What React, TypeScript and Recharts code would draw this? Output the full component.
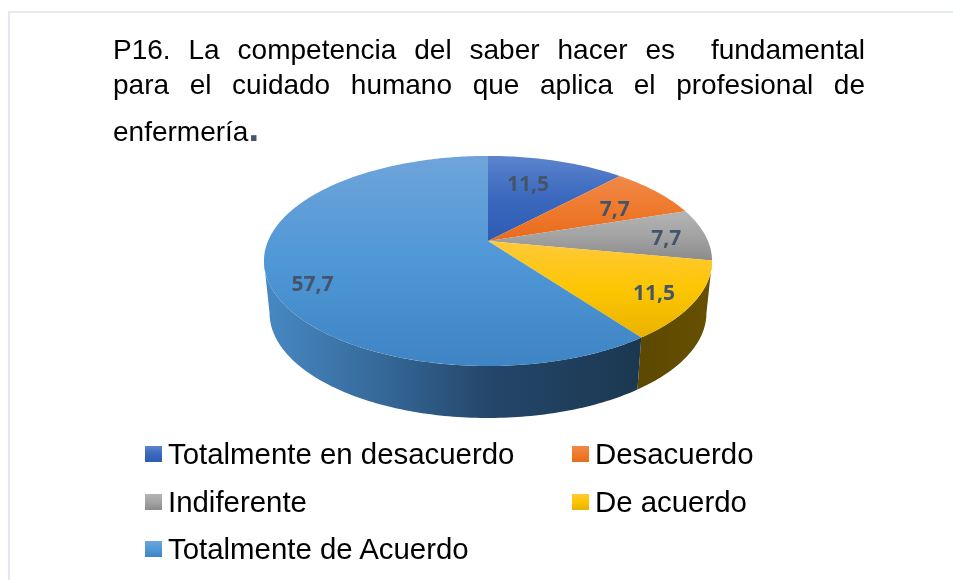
import { PieChart, Pie, Legend } from "recharts";

const categories = [
  "Totalmente en desacuerdo",
  "Desacuerdo",
  "Indiferente",
  "De acuerdo",
  "Totalmente de Acuerdo",
];
const values = [11.5, 7.7, 7.7, 11.5, 57.7];
const topStops = [
  ["#5d84cd", "#3a68bd", "#2f5cb3"],
  ["#f0894a", "#ef7a2d", "#e96b1b"],
  ["#b4b4b4", "#a3a3a3", "#8b8b8b"],
  ["#ffc93a", "#fdc602", "#e9b200"],
  ["#6fa4da", "#4f97d6", "#3f84c4"],
];

const data = categories.map((name, i) => ({ name, value: values[i], fill: `url(#top${i})` }));

// the pie lies tilted, so the far rim looks closer to the apex than the near rim
const TILT = 0.19;
const X_SCALE = 0.982;
const Y_SCALE = 0.452;
const WALL_DEPTH = 52;
const WALL_SHRINK = 0.975;
const WALL_FROM = 101;
const WALL_TO = 259;

function project(cx: number, cy: number, R: number, deg: number, r = 1) {
  const a = (deg * Math.PI) / 180;
  const X = Math.sin(a) * r;
  const Y = -Math.cos(a) * r;
  const w = 1 - TILT * Y;
  return { x: cx + (R * X_SCALE * X) / w, y: cy + (R * Y_SCALE * Y) / w };
}

function rim(cx: number, cy: number, R: number, from: number, to: number) {
  const pts = [];
  const n = Math.max(2, Math.ceil(Math.abs(to - from)));
  for (let i = 0; i <= n; i++) {
    pts.push(project(cx, cy, R, from + ((to - from) * i) / n));
  }
  return pts;
}

const toPath = (pts: { x: number; y: number }[]) =>
  pts.map((p, i) => `${i ? "L" : "M"}${p.x.toFixed(2)} ${p.y.toFixed(2)}`).join(" ") + " Z";

function TopSlice(props: any) {
  const { cx, cy, outerRadius, startAngle, endAngle, fill } = props;
  const pts = rim(cx, cy, outerRadius, 90 - startAngle, 90 - endAngle);
  return <path d={toPath([{ x: cx, y: cy }, ...pts])} fill={fill} stroke="none" />;
}

function WallSlice(props: any) {
  const { cx, cy, outerRadius, startAngle, endAngle, index } = props;
  const from = Math.max(90 - startAngle, WALL_FROM);
  const to = Math.min(90 - endAngle, WALL_TO);
  if (to <= from) return null;
  const top = rim(cx, cy, outerRadius, from, to);
  const bottom = top
    .map((p) => ({ x: cx + (p.x - cx) * WALL_SHRINK, y: p.y + WALL_DEPTH }))
    .reverse();
  return <path d={toPath([...top, ...bottom])} fill={`url(#wall${index})`} stroke="none" />;
}

// small corrections so the labels sit where the original put them
const labelNudge = [
  [-14, 5],
  [-4, 5],
  [13, 1],
  [13, 6],
  [-9, 17],
];

function SliceLabel(props: any) {
  const { cx, cy, outerRadius, midAngle, value, index } = props;
  const p = project(cx, cy, outerRadius, 90 - midAngle, 0.76);
  return (
    <text
      x={p.x + labelNudge[index][0]}
      y={p.y + labelNudge[index][1]}
      textAnchor="middle"
      dominantBaseline="central"
      fontFamily="'Open Sans', sans-serif"
      fontWeight={700}
      fontSize={21}
      fill="#44546a"
    >
      {String(value).replace(".", ",")}
    </text>
  );
}

function LegendBlock() {
  return (
    <div
      style={{
        display: "grid",
        gridTemplateColumns: "427px 300px",
        gridAutoRows: "47.5px",
        fontFamily: "'Liberation Sans', Arial, sans-serif",
        fontSize: 29.4,
        color: "#000",
      }}
    >
      {categories.map((name, i) => (
        <div key={name} style={{ display: "flex", alignItems: "center", height: 32 }}>
          <svg width={17} height={16} style={{ marginRight: 6, flex: "none" }}>
            <rect width={17} height={16} fill={`url(#top${i})`} />
          </svg>
          <span style={{ whiteSpace: "nowrap" }}>{name}</span>
        </div>
      ))}
    </div>
  );
}

const titleLine = {
  position: "absolute" as const,
  left: 105,
  width: 752,
  fontFamily: "'Liberation Sans', Arial, sans-serif",
  fontSize: 28,
  lineHeight: "34px",
  color: "#000",
  whiteSpace: "pre-wrap" as const,
  textAlign: "justify" as const,
  textAlignLast: "justify" as const,
};

export default function App() {
  return (
    <div style={{ position: "relative", width: 937, height: 564, background: "#fff" }}>
      <div
        style={{
          position: "fixed",
          left: 8,
          top: 11,
          width: 1000,
          height: 1000,
          borderLeft: "2px solid #e3e8ef",
          borderTop: "2px solid #e3e8ef",
        }}
      />
      <div style={{ ...titleLine, top: 25 }}>P16. La competencia del saber hacer es  fundamental</div>
      <div style={{ ...titleLine, top: 60 }}>para el cuidado humano que aplica el profesional de</div>
      <div style={{ ...titleLine, top: 107, textAlign: "left", textAlignLast: "left" }}>
        enfermería<span style={{ color: "#44546a", fontWeight: 700, fontSize: 38, lineHeight: 0 }}>.</span>
      </div>
      <div style={{ position: "absolute", left: 0, top: 0 }}>
        <PieChart width={937} height={564} margin={{ top: 0, right: 0, bottom: 0, left: 0 }}>
          <defs>
            {topStops.map((stops, i) => (
              <linearGradient key={i} id={`top${i}`} x1="0" y1="0" x2="0" y2="1">
                <stop offset="0%" stopColor={stops[0]} />
                <stop offset="50%" stopColor={stops[1]} />
                <stop offset="100%" stopColor={stops[2]} />
              </linearGradient>
            ))}
            <linearGradient id="wall3" x1="0" y1="0" x2="1" y2="0">
              <stop offset="0%" stopColor="#5c4800" />
              <stop offset="100%" stopColor="#665000" />
            </linearGradient>
            <linearGradient id="wall4" x1="0" y1="0" x2="1" y2="0">
              <stop offset="0%" stopColor="#4789c4" />
              <stop offset="30%" stopColor="#366a9a" />
              <stop offset="60%" stopColor="#24466a" />
              <stop offset="100%" stopColor="#1b3850" />
            </linearGradient>
          </defs>
          <Pie
            data={data}
            dataKey="value"
            nameKey="name"
            cx={480}
            cy={233}
            outerRadius={224}
            startAngle={90}
            endAngle={-270}
            paddingAngle={0}
            shape={WallSlice}
            legendType="none"
            label={false}
            labelLine={false}
            isAnimationActive={false}
          />
          <Pie
            data={data}
            dataKey="value"
            nameKey="name"
            cx={480}
            cy={233}
            outerRadius={224}
            startAngle={90}
            endAngle={-270}
            paddingAngle={0}
            shape={TopSlice}
            label={SliceLabel}
            labelLine={false}
            isAnimationActive={false}
          />
          <Legend
            content={() => <LegendBlock />}
            wrapperStyle={{ left: 137, top: 430, width: 740, bottom: "auto", right: "auto" }}
          />
        </PieChart>
      </div>
    </div>
  );
}
